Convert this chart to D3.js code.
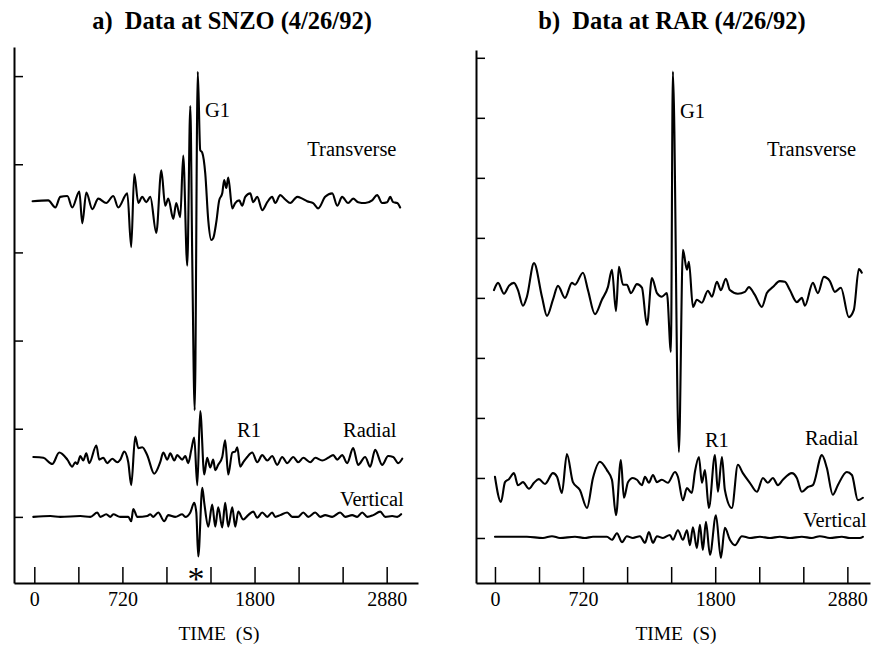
<!DOCTYPE html>
<html lang="en">
<head>
<meta charset="UTF-8">
<title>Data at SNZO and RAR (4/26/92)</title>
<style>
    body { margin: 0; background: #fff; }
    svg { display: block; }
    text { font-family: "Liberation Serif", "Times New Roman", serif; fill: #000; }
    .trace { fill: none; stroke: #000; stroke-width: 2.1; stroke-linejoin: round; stroke-linecap: round; }
    .axis path { stroke: #000; stroke-width: 2; }
    .axis line { stroke: #000; stroke-width: 1.5; }
    .axis text { font-family: "Liberation Serif", serif; font-size: 20px; }
</style>
</head>
<body>
<svg id="chart" width="871" height="649"></svg>

<script src="https://cdn.jsdelivr.net/npm/d3@7/dist/d3.min.js"></script>
<script>
    // time ticks (s) and which of them carry a label
    let timeTicks = [0, 360, 720, 1080, 1440, 1800, 2160, 2520, 2880]
    let timeLabels = [0, 720, 1800, 2880]

    // trace baselines, in amplitude units (10 units per left-axis tick)
    let snzoBase = [35.8, 6.7, 0]   // transverse, radial, vertical
    let rarBase = [40, 10, 0]

    // [time s, amplitude]
    let snzoTransverse = [[-14,0],[114,0.1],[172,-0.7],[212,0.5],[270,0.6],[310,-0.7],[368,1.1],[392,-2.5],[425,1.0],
        [474,-0.9],[523,0.3],[588,-0.2],[645,0.6],[686,-0.7],[760,0.9],[792,-5.2],[817,3.1],[850,-0.2],[882,0.5],
        [915,-0.1],[948,0.5],[997,-3.6],[1038,3.5],[1070,-0.5],[1095,0.3],[1136,-2.0],[1160,-0.2],[1193,-1.8],
        [1217,5.2],[1250,-7.3],[1275,10.8],[1291,-6.7],[1311,-23.7],[1336,14.7],[1356,5.8],[1373,5.5],[1397,3.2],
        [1422,-2.2],[1446,-4.4],[1462,-4.2],[1487,-2.4],[1511,0.1],[1536,0.9],[1552,2.4],[1569,1.5],[1585,2.7],
        [1618,-0.8],[1642,-0.2],[1675,0.1],[1699,-0.5],[1724,0.5],[1765,0.9],[1789,-0.1],[1822,0.5],[1863,-1.0],
        [1904,-0.1],[1944,0.5],[1969,-0.2],[2010,0.7],[2051,0.2],[2092,-0.2],[2149,0.5],[2190,0.3],[2230,0],
        [2279,-0.2],[2320,-0.8],[2377,0.5],[2435,0.9],[2476,-0.5],[2516,0.5],[2565,-0.2],[2606,0.3],[2647,-0.1],
        [2704,-0.2],[2761,0.1],[2802,0.7],[2843,-0.2],[2884,-0.1],[2909,0.5],[2933,-0.1],[2966,-0.2],[2990,-0.7]]

    let snzoRadial = [[-8,0.1],[74,0],[147,-0.7],[204,0.6],[270,-0.2],[310,-1.0],[335,-0.5],[351,-0.7],[376,0.2],
        [400,-0.3],[425,0.5],[449,-0.6],[507,1.4],[531,-0.2],[564,0],[596,-0.6],[637,-0.1],[678,-0.5],[703,-0.2],
        [735,0.7],[768,-0.5],[792,-3.1],[825,2.4],[850,1.1],[882,1.2],[923,0.3],[980,-1.8],[1029,-0.5],[1054,0.6],
        [1087,-0.2],[1111,0.5],[1144,-0.3],[1168,0.3],[1209,-0.2],[1234,0.2],[1258,-0.6],[1283,0.9],[1307,2.3],
        [1332,-3.1],[1356,5.3],[1389,-1.9],[1413,0],[1438,-1.1],[1462,-0.2],[1479,-1.4],[1503,-0.8],[1536,0.1],
        [1560,2.0],[1585,-1.9],[1618,0.6],[1642,0.7],[1659,1.2],[1683,-1.0],[1708,-0.5],[1740,0.1],[1781,0.6],
        [1822,-0.5],[1863,0.3],[1904,-0.3],[1944,0.2],[1985,-0.8],[2026,0.1],[2067,-0.6],[2116,0.1],[2157,-0.5],
        [2198,0],[2255,-0.5],[2296,0],[2353,-0.3],[2402,0],[2443,0.3],[2476,-0.2],[2516,0.3],[2557,-0.6],
        [2606,1.1],[2647,-0.8],[2704,0.1],[2745,-1.0],[2786,0.9],[2843,-0.8],[2892,0.2],[2933,0.1],[2974,-0.6],[3007,-0.1]]

    let snzoVertical = [[-8,0],[131,0.1],[212,0],[376,0.1],[458,0],[515,0.5],[539,0],[588,0.3],[621,0],[645,0.3],
        [703,0],[768,0],[792,-0.5],[809,0.9],[842,0],[923,0.1],[948,0.3],[972,0],[1013,0.5],[1062,-0.5],[1095,0.2],
        [1152,0],[1209,0.3],[1234,0],[1275,0.5],[1307,1.6],[1324,0.5],[1340,-4.5],[1373,3.3],[1389,1.6],[1422,-1.1],
        [1454,1.4],[1479,-1.1],[1503,1.1],[1536,-1.2],[1560,1.6],[1585,-1.1],[1618,1.1],[1642,-1.1],[1667,0.6],
        [1708,-0.3],[1748,0.2],[1789,0.6],[1822,-0.1],[1863,0.5],[1904,0],[1944,0.5],[1969,0],[2010,0.2],[2067,0.5],
        [2108,0],[2157,0],[2198,0.5],[2239,0],[2296,0.5],[2337,0],[2377,0.2],[2435,0],[2500,0.5],[2541,0],[2598,0.2],
        [2639,0],[2680,0.5],[2721,0],[2770,0.2],[2827,0.6],[2868,0],[2925,0.1],[2966,0],[2998,0.3]]

    let rarTransverse = [[-8,1.3],[25,2.5],[74,0.7],[114,2.0],[155,2.5],[188,1.3],[229,-1.3],[261,0.2],[319,5.8],
        [384,0.2],[425,-3.0],[474,-0.3],[515,2.0],[572,0],[629,2.5],[654,2.2],[719,4.2],[760,1.3],[817,-2.7],
        [874,-0.3],[923,1.8],[956,4.7],[989,-2.2],[1013,5.2],[1046,2.2],[1078,2.2],[1111,0.8],[1160,2.3],[1201,1.7],
        [1242,-4.5],[1283,3.3],[1324,0.8],[1364,0.2],[1405,0.8],[1438,-9.0],[1454,37.7],[1503,-25.7],[1536,8.0],
        [1569,4.7],[1585,6.0],[1618,-1.5],[1650,-0.3],[1691,-0.8],[1740,1.2],[1773,0.2],[1814,2.7],[1846,1.3],
        [1887,3.2],[1920,1.3],[1985,0.7],[2043,1.0],[2075,1.8],[2124,0.5],[2181,-1.5],[2222,0.8],[2271,1.8],
        [2328,2.8],[2369,2.7],[2410,1.3],[2467,-0.7],[2508,0],[2533,-1.3],[2598,2.5],[2639,0.8],[2688,3.5],
        [2737,2.8],[2778,1.0],[2827,1.7],[2892,-3.2],[2933,-2.0],[2974,4.8],[2998,4.2]]

    let rarRadial = [[0,0.2],[49,-4.0],[82,-0.7],[114,-0.2],[155,0.8],[188,-1.2],[229,-0.7],[278,-1.8],[319,-0.8],
        [359,-0.2],[409,-1.0],[474,0.8],[507,0.2],[547,-2.5],[588,4.0],[637,-0.7],[694,-2.0],[752,-5.0],[801,0],
        [858,2.7],[915,1.3],[956,-0.3],[989,-6.2],[1029,3.0],[1054,-3.3],[1087,-0.7],[1127,0],[1160,-0.3],
        [1201,-1.2],[1226,0.2],[1258,-0.8],[1291,0.5],[1324,-0.7],[1364,-0.3],[1413,-0.8],[1471,1.0],[1495,0.2],
        [1536,-3.7],[1569,-1.7],[1609,-2.5],[1634,1.0],[1667,3.5],[1691,-0.8],[1716,1.3],[1748,-5.0],[1798,3.8],
        [1822,-2.3],[1855,3.5],[1879,-2.0],[1936,-5.0],[1985,2.2],[2026,0.8],[2083,-0.8],[2141,-2.3],[2190,0],
        [2230,-0.8],[2271,0],[2312,-1.2],[2353,-0.3],[2426,0.8],[2467,0],[2508,-2.3],[2557,-1.5],[2598,-1.2],
        [2672,3.8],[2712,1.7],[2761,-2.8],[2802,-1.2],[2876,1.0],[2917,0.5],[2966,-3.7],[3007,-3.3]]

    let rarVertical = [[0,0.2],[261,0.2],[392,0],[466,0.3],[531,0],[654,0.2],[735,0],[801,0.2],[915,0.2],[956,-0.3],
        [997,0.8],[1038,-0.7],[1078,0.3],[1127,0],[1185,0.3],[1226,-0.8],[1258,1.0],[1291,-0.8],[1324,0.3],[1373,0],
        [1430,0.5],[1454,-0.3],[1495,1.3],[1536,-0.3],[1569,1.3],[1593,-1.2],[1618,1.8],[1650,-1.7],[1675,2.2],
        [1699,-2.0],[1724,2.7],[1757,-2.8],[1806,3.8],[1846,-3.3],[1879,1.7],[1920,-0.3],[1961,-1.2],[2018,0.3],
        [2083,0],[2165,0.2],[2247,0],[2328,0.2],[2410,0],[2508,0.2],[2590,0],[2655,0.3],[2737,0],[2835,0.2],
        [2900,0],[2982,0],[3007,0.2]]

    let svg = d3.select("#chart")

    let panels = [
        {
            title: "a)  Data at SNZO (4/26/92)", titleX: 232,
            left: 14, right: 418, top: 47, bottom: 583,
            tDomain: [-166, 3136], aDomain: [-7.5, 53.3],
            aTicks: [0, 10, 20, 30, 40, 50],
            traces: [snzoTransverse, snzoRadial, snzoVertical], base: snzoBase,
            labels: [["G1", 1395, 45.4], ["Transverse", 2231, 40.9], ["R1", 1657, 9.1],
                     ["Radial", 2523, 9.1], ["Vertical", 2498, 1.2]],
            star: [1322, -8.3]
        },
        {
            title: "b)  Data at RAR (4/26/92)", titleX: 672,
            left: 476, right: 870, top: 50, bottom: 583,
            tDomain: [-155, 3065], aDomain: [-7.5, 81.3],
            aTicks: [0, 10, 20, 30, 40, 50, 60, 70, 80],
            traces: [rarTransverse, rarRadial, rarVertical], base: rarBase,
            labels: [["G1", 1512, 70], ["Transverse", 2223, 63.7], ["R1", 1716, 15.2],
                     ["Radial", 2534, 15.5], ["Vertical", 2517, 1.8]],
            star: null
        }
    ]

    panels.forEach(p => drawPanel(p))

    function drawPanel(p) {
        let xScale = d3.scaleLinear().domain(p.tDomain).range([p.left, p.right])
        let yScale = d3.scaleLinear().domain(p.aDomain).range([p.bottom, p.top])

        let g = svg.append("g")

        g.append("g").attr("class", "axis")
            .attr("transform", `translate(${p.left},0)`)
            .call(d3.axisLeft(yScale).tickValues(p.aTicks).tickSizeInner(-9).tickSizeOuter(0).tickFormat(""))

        g.append("g").attr("class", "axis")
            .attr("transform", `translate(0,${p.bottom})`)
            .call(d3.axisBottom(xScale).tickValues(timeTicks).tickSizeInner(-16).tickSizeOuter(0)
                .tickPadding(9)
                .tickFormat(d => timeLabels.includes(d) ? d : ""))

        let line = d3.line()
            .curve(d3.curveMonotoneX)

        p.traces.forEach((tr, i) => {
            g.append("path").attr("class", "trace")
                .datum(tr)
                .attr("d", line.x(d => xScale(d[0])).y(d => yScale(d[1] + p.base[i])))
        })

        g.selectAll(".lbl").data(p.labels).enter()
            .append("text")
            .attr("class", "lbl")
            .attr("x", d => xScale(d[1]))
            .attr("y", d => yScale(d[2]))
            .style("font-size", "20.5px")
            .text(d => d[0])

        if (p.star) {
            g.append("text")
                .attr("x", xScale(p.star[0]))
                .attr("y", yScale(p.star[1]))
                .attr("text-anchor", "middle")
                .style("font-size", "34px")
                .text("*")
        }

        g.append("text")
            .attr("x", p.titleX)
            .attr("y", 29)
            .attr("text-anchor", "middle")
            .style("font-size", "24.5px")
            .style("font-weight", "bold")
            .style("white-space", "pre")
            .attr("xml:space", "preserve")
            .text(p.title)

        g.append("text")
            .attr("x", (p.left + p.right) / 2 + 3)
            .attr("y", 640)
            .attr("text-anchor", "middle")
            .style("font-size", "19.5px")
            .style("white-space", "pre")
            .attr("xml:space", "preserve")
            .text("TIME  (S)")
    }
</script>
</body>
</html>
